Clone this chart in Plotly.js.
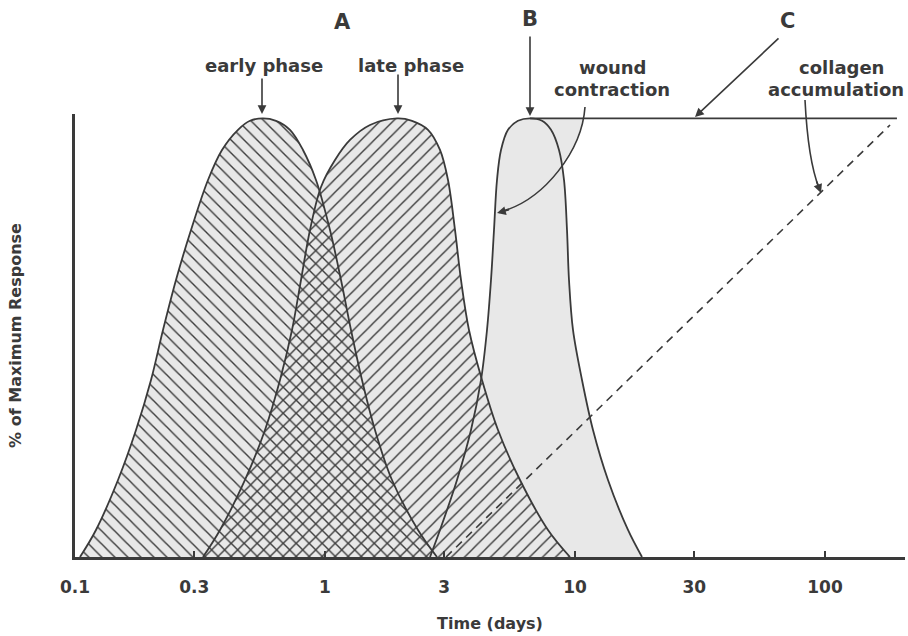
<!DOCTYPE html>
<html><head><meta charset="utf-8">
<script src="https://cdn.plot.ly/plotly-3.0.1.min.js"></script>
<style>html,body{margin:0;padding:0;background:#fff;}#chart{width:908px;height:636px;}</style>
</head><body><div id="chart"></div>
<script>
// A: early phase (days, % of maximum response)
const earlyDays = [0.1047,0.1213,0.1486,0.1754,0.2014,0.2249,0.2535,0.2911,0.3404,0.3873,0.4487,0.5012,0.5649,0.6368,0.7244,0.8166,0.9204,1.0471,1.1588,1.2706,1.4060,1.5849,1.8535,2.3550,2.8054];
const earlyPct  = [0,6.16,17.56,28.96,40.36,51.76,63.16,74.56,85.96,92.8,97.4,99.45,100,99.45,97.4,92.8,85.96,74.56,63.16,51.76,40.36,28.96,17.56,6.16,0];
// A: late phase
const lateDays = [0.3251,0.3802,0.4786,0.5754,0.6607,0.7379,0.8017,0.8710,0.9638,1.0965,1.2589,1.5136,1.9409,2.2284,2.5823,2.8840,3.1046,3.3113,3.4995,3.7670,4.2462,4.9204,6.0256,7.7983,9.5499];
const latePct  = [0,6.16,17.56,28.96,40.36,51.76,63.16,74.56,84.36,90.5,95.08,98.5,100,99.45,97.4,92.8,85.96,74.56,63.16,51.76,40.36,28.96,17.56,6.16,0];
// B: wound contraction
const woundDays = [2.6303,2.8840,3.3729,3.8371,4.2073,4.4463,4.6132,4.7424,4.8753,5.0582,5.3951,5.9156,6.6069,7.3790,8.0168,8.6298,9.0365,9.2897,9.4624,9.8175,10.666,11.803,13.552,16.293,18.535];
const woundPct  = [0,6.16,17.56,28.96,40.36,51.76,63.16,74.56,85.96,92.8,97.4,99.45,100,99.45,97.4,92.8,85.96,74.56,63.16,51.76,40.36,28.96,17.56,6.16,0];
// C: plateau line and collagen accumulation
const plateauDays = [6.607,194];
const plateauPct  = [100,100];
const collagenDays = [3.05,182];
const collagenPct  = [0,98.5];
// axis ticks
const tickVals = [0.1,0.3,1,3,10,30,100];
const tickText = ['0.1','0.3','1','3','10','30','100'];

const INK = '#3a3a3a', GRAY = '#e8e8e8';
const F = {family:'DejaVu Sans, sans-serif', color:INK, weight:'bold'};
const SPL = {shape:'spline',smoothing:1};

function grayFill(x,y){return {x:x,y:y,type:'scatter',mode:'lines',line:Object.assign({width:0},SPL),fill:'tozeroy',fillcolor:GRAY,showlegend:false,hoverinfo:'skip'};}
function hatch(x,y,shape){return {x:x,y:y,type:'scatter',mode:'lines',line:Object.assign({width:1.8,color:INK},SPL),fill:'tozeroy',fillpattern:{shape:shape,size:9.2,solidity:0.15,fgcolor:INK,bgcolor:'rgba(0,0,0,0)'},showlegend:false,hoverinfo:'skip'};}

const traces = [
  grayFill(earlyDays,earlyPct),
  grayFill(lateDays,latePct),
  grayFill(woundDays,woundPct),
  hatch(earlyDays,earlyPct,'\\'),
  hatch(lateDays,latePct,'/'),
  {x:woundDays,y:woundPct,type:'scatter',mode:'lines',line:Object.assign({width:1.8,color:INK},SPL),showlegend:false},
  {x:plateauDays,y:plateauPct,type:'scatter',mode:'lines',line:{width:1.6,color:INK},showlegend:false},
  {x:collagenDays,y:collagenPct,type:'scatter',mode:'lines',line:{width:1.6,color:INK,dash:'8px,6px'},showlegend:false}
];

const L=75,T=114,PW=830,PH=443;
const px = v => (v-L)/PW, py = v => (T+PH-v)/PH;
function txt(t,x,y,size,anchor){return {xref:'paper',yref:'paper',x:px(x),y:py(y),text:t,showarrow:false,font:Object.assign({},F,{size:size}),xanchor:anchor||'center',yanchor:'middle'};}
function arr(hx,hy,tx,ty){return {xref:'paper',yref:'paper',x:px(hx),y:py(hy),ax:tx-hx,ay:ty-hy,text:'',showarrow:true,arrowhead:2,arrowsize:1.1,arrowwidth:1.6,arrowcolor:INK};}
function P(a,b){return px(a)+','+py(b);}

const layout = {
  width:908,height:636,
  margin:{l:L,r:908-L-PW,t:T,b:636-T-PH},
  paper_bgcolor:'#fff',plot_bgcolor:'#fff',
  showlegend:false,
  xaxis:{type:'log',range:[-1,2.32],tickvals:tickVals,ticktext:tickText,ticks:'inside',ticklen:6,tickwidth:2,tickcolor:INK,
         showline:true,linewidth:3,linecolor:INK,showgrid:false,zeroline:false,ticklabelstandoff:13,
         tickfont:Object.assign({},F,{size:17}),
         title:{text:'Time (days)',font:Object.assign({},F,{size:16}),standoff:22}},
  yaxis:{range:[0,101],showline:true,linewidth:3,linecolor:INK,showgrid:false,zeroline:false,ticks:'',showticklabels:false,
         title:{text:'% of Maximum Response',font:Object.assign({},F,{size:16}),standoff:47}},
  annotations:[
    txt('A',342,22,21), txt('B',530,19,21), txt('C',787,21,21),
    txt('early phase',264,65,18), txt('late phase',411,65,18),
    txt('wound',613,67,18), txt('contraction',612,90,18),
    txt('collagen',841,67,18), txt('accumulation',906,90,18,'right'),
    arr(262,114,262,77), arr(398,114,398,73), arr(530,116,530,35), arr(695,117,780,37),
    arr(497,213,510.5,209.4), arr(821,193,816,180)
  ],
  shapes:[
    {type:'path',xref:'paper',yref:'paper',layer:'below',fillcolor:GRAY,line:{width:0},
     path:'M'+P(530,119)+' L'+P(583,119)+' Q'+P(577,145)+' '+P(561,165)+' Q'+P(552,128)+' '+P(530,119)+' Z'},
    {type:'path',xref:'paper',yref:'paper',line:{color:INK,width:1.6},
     path:'M'+P(585,107)+' C'+P(582,150)+' '+P(545,200)+' '+P(500,212)},
    {type:'path',xref:'paper',yref:'paper',line:{color:INK,width:1.6},
     path:'M'+P(805,100)+' Q'+P(808,160)+' '+P(819,188)}
  ]
};
Plotly.newPlot('chart',traces,layout,{displayModeBar:false,staticPlot:true});
</script></body></html>
